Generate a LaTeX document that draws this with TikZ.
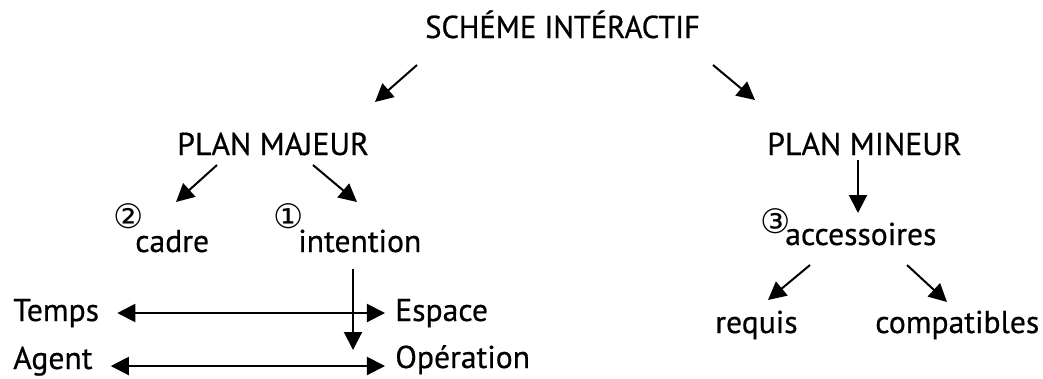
\documentclass[tikz,border=0pt]{standalone}
\usepackage{fontspec}
\setmainfont[FakeBold=0.6]{PT Sans}
\newfontfamily\capsfont[FakeBold=0.6]{PT Sans}
\newfontfamily\grandfont[FakeBold=0.6,FakeStretch=0.965]{PT Sans}
\newfontfamily\numfont{DejaVu Sans}
\usetikzlibrary{arrows.meta}
\tikzset{>={Triangle[length=0.45cm,width=0.45cm]}}
\tikzstyle{mot}=[anchor=base west,inner sep=0pt,font=\fontsize{22.5}{27}\selectfont]
\tikzstyle{titre}=[mot,font=\fontsize{22.5}{27}\selectfont\capsfont]
\tikzstyle{num}=[anchor=base west,inner sep=0pt,font=\fontsize{24}{28}\selectfont\numfont]
\tikzstyle{fleche}=[->,draw=black,line width=0.5mm]
\tikzstyle{dfleche}=[<->,draw=black,line width=0.5mm]

\begin{document}
\begin{tikzpicture}[x=0.025cm,y=-0.025cm]
    \useasboundingbox (0,0) rectangle (1043,378);

    \node[titre,font=\fontsize{22.5}{27}\selectfont\grandfont] (scheme) at (425,38) {SCHÉME INTÉRACTIF};
    \node[titre] (majeur) at (177,155) {PLAN MAJEUR};
    \node[titre] (mineur) at (767,155) {PLAN MINEUR};

    \node[num] (n2) at (113,228) {②};
    \node[mot] (cadre) at (135,252) {cadre};
    \node[num] (n1) at (273,228) {①};
    \node[mot] (intention) at (298,252) {intention};
    \node[num] (n3) at (760,233) {③};
    \node[mot] (accessoires) at (785,245) {accessoires};

    \node[mot] (temps) at (13,321) {Temps};
    \node[mot] (espace) at (395,321) {Espace};
    \node[mot] (agent) at (13,369) {Agent};
    \node[mot] (operation) at (395,368) {Opération};
    \node[mot] (requis) at (715,333) {requis};
    \node[mot] (compatibles) at (875,333) {compatibles};

    % extremites des fleches
    \coordinate (s1) at (417,65);  \coordinate (s2) at (375,102);
    \coordinate (s3) at (713,65);  \coordinate (s4) at (755,100);
    \coordinate (m1) at (217,165); \coordinate (m2) at (176,202);
    \coordinate (m3) at (313,165); \coordinate (m4) at (357,202);
    \coordinate (p1) at (858,160); \coordinate (p2) at (858,213);
    \coordinate (a1) at (810,265); \coordinate (a2) at (768,300);
    \coordinate (a3) at (907,265); \coordinate (a4) at (947,302);
    \coordinate (bas) at (353,350);

    \draw[fleche] (s1) -- (s2);
    \draw[fleche] (s3) -- (s4);
    \draw[fleche] (m1) -- (m2);
    \draw[fleche] (m3) -- (m4);
    \draw[fleche] (p1) -- (p2);
    \draw[fleche] (a1) -- (a2);
    \draw[fleche] (a3) -- (a4);

    \draw[dfleche, shorten <=0.45cm, shorten >=0.25cm]
        (temps.east |- 0,313) -- (espace.west |- 0,313);
    \draw[dfleche, shorten <=0.45cm, shorten >=0.25cm]
        (agent.east |- 0,366) -- (operation.west |- 0,366);
    \draw[fleche, shorten <=0.4cm] (intention.south -| bas) -- (bas);
\end{tikzpicture}
\end{document}
